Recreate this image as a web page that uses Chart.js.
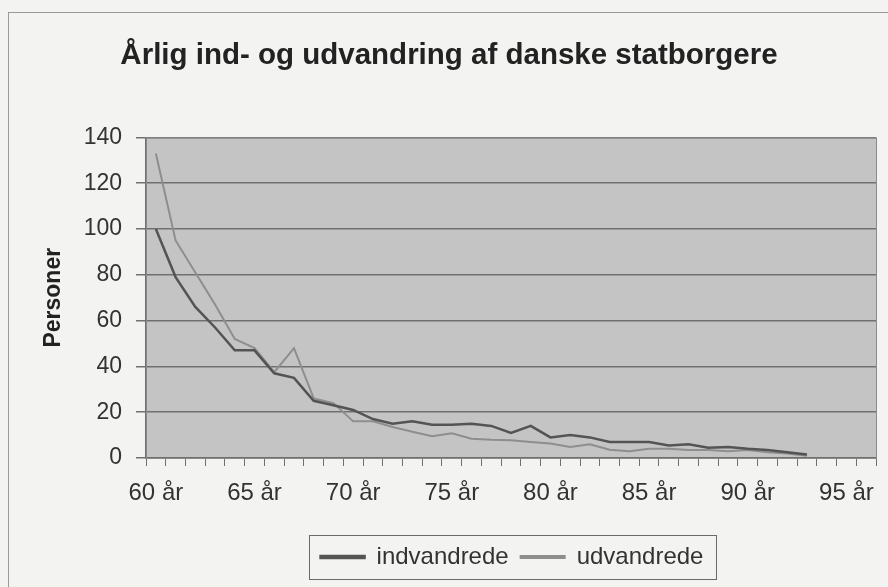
<!DOCTYPE html>
<html>
<head>
<meta charset="utf-8">
<script src="https://cdn.jsdelivr.net/npm/chart.js@4/dist/chart.umd.min.js"></script>
<style>
  html, body { margin: 0; padding: 0; background: #f3f3f1; }
  #wrap { width: 888px; height: 587px; }
</style>
</head>
<body>
<div id="wrap"><canvas id="chartCanva" width="888" height="587"></canvas></div>
<script>
// ages 60 .. 96
const ages = [60, 61, 62, 63, 64, 65, 66, 67, 68, 69, 70, 71, 72, 73, 74, 75, 76, 77, 78,
  79, 80, 81, 82, 83, 84, 85, 86, 87, 88, 89, 90, 91, 92, 93, 94, 95, 96];
const categories = ages.map((a) => a + " år");

// persons per year
const indvandrede = [100, 79, 66, 57, 47, 47, 37, 35, 25, 23, 21, 17, 15, 16, 14.5, 14.5, 15, 14, 11,
  14, 9, 10, 9, 7, 7, 7, 5.5, 6, 4.5, 4.8, 4, 3.5, 2.5, 1.5, null, null, null];
const udvandrede = [133, 95, 81, 67, 52, 48, 37.5, 48, 26, 24, 16, 16, 13.5, 11.5, 9.5, 10.8, 8.4, 8, 7.8,
  7, 6.3, 4.8, 6, 3.6, 3, 4, 4, 3.5, 3.5, 3, 3.5, 2.5, 2, 1, null, null, null];

const yTicks = [0, 20, 40, 60, 80, 100, 120, 140];

const fontFamily = "Liberation Sans, Arial, sans-serif";
const textColor = "#333333";
const gridColor = "#707070";

// gray plot area + page frame + legend frame
const decorations = {
  id: "decorations",
  afterLayout(chart) {
    // the title sits a little left and the legend right of centre in the original
    if (chart.titleBlock) {
      chart.titleBlock.left -= 9;
      chart.titleBlock.right -= 9;
    }
    if (chart.legend) {
      chart.legend.left += 54;
      chart.legend.right += 54;
    }
  },
  beforeDraw(chart) {
    const { ctx, chartArea } = chart;
    ctx.save();
    ctx.fillStyle = "#c4c4c4";
    ctx.fillRect(chartArea.left, chartArea.top,
      chartArea.right - chartArea.left, chartArea.bottom - chartArea.top);
    // outer frame of the sheet
    ctx.strokeStyle = "#9a9a9a";
    ctx.lineWidth = 1;
    ctx.strokeRect(8.5, 12.5, 900, 600);
    ctx.restore();
  },
  afterDraw(chart) {
    const { ctx, chartArea } = chart;
    ctx.save();
    // plot border
    ctx.strokeStyle = "#8a8a8a";
    ctx.lineWidth = 1;
    ctx.strokeRect(chartArea.left + 0.5, chartArea.top + 0.5,
      chartArea.right - chartArea.left, chartArea.bottom - chartArea.top);
    // legend box
    const hb = chart.legend.legendHitBoxes;
    if (hb && hb.length) {
      const l = Math.min(...hb.map((b) => b.left)) - 12;
      const r = Math.max(...hb.map((b) => b.left + b.width)) + 12;
      const t = Math.min(...hb.map((b) => b.top)) - 10;
      const btm = Math.max(...hb.map((b) => b.top + b.height)) + 10;
      ctx.strokeStyle = "#6a6a6a";
      ctx.strokeRect(Math.round(l) + 0.5, Math.round(t) + 0.5, Math.round(r - l), Math.round(btm - t));
    }
    ctx.restore();
  },
};

new Chart(document.getElementById("chartCanva"), {
  type: "line",
  data: {
    labels: categories,
    datasets: [
      {
        label: "indvandrede",
        data: indvandrede,
        borderColor: "#545454",
        backgroundColor: "#545454",
        borderWidth: 2.5,
        pointRadius: 0,
        tension: 0,
      },
      {
        label: "udvandrede",
        data: udvandrede,
        borderColor: "#8e8e8e",
        backgroundColor: "#8e8e8e",
        borderWidth: 2,
        pointRadius: 0,
        tension: 0,
      },
    ],
  },
  options: {
    responsive: false,
    animation: false,
    layout: { padding: { left: 40, right: 12, top: 0, bottom: 8 } },
    plugins: {
      title: {
        display: true,
        text: "Årlig ind- og udvandring af danske statborgere",
        color: "#222222",
        font: { family: fontFamily, size: 29.5, weight: "bold" },
        padding: { top: 38, bottom: 64 },
      },
      legend: {
        position: "bottom",
        labels: {
          color: textColor,
          font: { family: fontFamily, size: 24 },
          boxWidth: 44,
          boxHeight: 2,
          padding: 12,
        },
      },
      tooltip: { enabled: false },
    },
    scales: {
      x: {
        offset: true,
        afterFit: (scale) => {
          scale.height = 75;
        },
        grid: {
          offset: true,
          drawOnChartArea: false,
          drawTicks: true,
          tickLength: 8,
          color: gridColor,
        },
        border: { color: gridColor, width: 1.5 },
        ticks: {
          autoSkip: false,
          maxRotation: 0,
          color: textColor,
          padding: 13,
          font: { family: fontFamily, size: 24 },
          callback: function (value, index) {
            return ages[index] % 5 === 0 ? categories[index] : "";
          },
        },
      },
      y: {
        min: 0,
        max: 140,
        afterBuildTicks: (scale) => {
          scale.ticks = yTicks.map((v) => ({ value: v }));
        },
        afterFit: (scale) => {
          scale.width = 106;
        },
        grid: {
          color: gridColor,
          lineWidth: 1.5,
          tickLength: 10,
        },
        border: { color: gridColor, width: 1.5 },
        ticks: {
          color: textColor,
          padding: 14,
          font: { family: fontFamily, size: 23 },
        },
        title: {
          display: true,
          text: "Personer",
          color: "#222222",
          font: { family: fontFamily, size: 23, weight: "bold" },
          padding: 0,
        },
      },
    },
  },
  plugins: [decorations],
});
</script>
</body>
</html>
